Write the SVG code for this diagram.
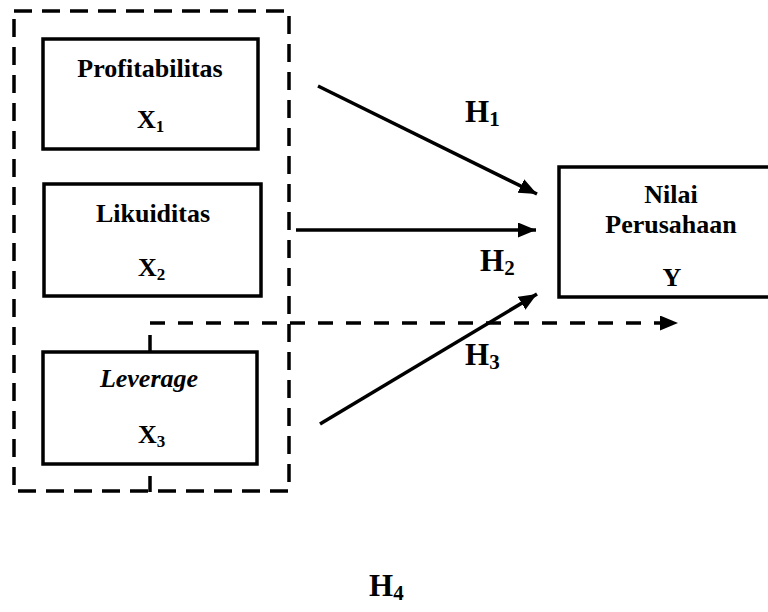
<svg xmlns="http://www.w3.org/2000/svg" width="768" height="612" viewBox="0 0 768 612">
<style>
.box{fill:#fff;stroke:#000;stroke-width:3.5}
.t{font-family:"Liberation Serif","Times New Roman",serif;font-weight:bold;font-size:26px;fill:#000}
.h{font-family:"Liberation Serif","Times New Roman",serif;font-weight:bold;font-size:31px;fill:#000}
.sub{font-size:17px}
.hs{font-size:21px}
.ln{stroke:#000;stroke-width:3.5;fill:none}
.dash{stroke:#000;stroke-width:3.5;fill:none;stroke-dasharray:15 13}
.odash{stroke:#000;stroke-width:3.5;fill:none;stroke-dasharray:18 10}
</style>
<defs>
<marker id="ah" markerUnits="userSpaceOnUse" markerWidth="20" markerHeight="16" refX="18" refY="7.5" orient="auto">
<path d="M0,0 L18,7.5 L0,15 Z" fill="#000"/>
</marker>
</defs>
<rect width="768" height="612" fill="#fff"/>
<g id="group-outline">
<rect class="odash" x="14" y="11" width="275" height="480"/>
</g>
<g id="node-x1">
<rect class="box" x="43" y="39" width="215" height="110"/>
<text class="t" x="150" y="77" text-anchor="middle">Profitabilitas</text>
<text class="t" x="137" y="128">X<tspan class="sub" dy="4">1</tspan></text>
</g>
<g id="node-x2">
<rect class="box" x="44" y="184" width="217" height="112"/>
<text class="t" x="153" y="222" text-anchor="middle">Likuiditas</text>
<text class="t" x="138" y="276">X<tspan class="sub" dy="4">2</tspan></text>
</g>
<g id="node-x3">
<rect class="box" x="43" y="352" width="214" height="112"/>
<text class="t" x="149" y="387" text-anchor="middle" font-style="italic">Leverage</text>
<text class="t" x="138" y="443">X<tspan class="sub" dy="4">3</tspan></text>
</g>
<g id="node-y">
<rect class="box" x="559" y="167" width="226" height="130"/>
<text class="t" x="671" y="203" text-anchor="middle">Nilai</text>
<text class="t" x="671" y="233" text-anchor="middle">Perusahaan</text>
<text class="t" x="672" y="286" text-anchor="middle">Y</text>
</g>
<g id="connectors">
<line class="ln" x1="318" y1="86" x2="537" y2="194" marker-end="url(#ah)"/>
<line class="ln" x1="296" y1="230" x2="536" y2="230" marker-end="url(#ah)"/>
<line class="ln" x1="320" y1="424" x2="537" y2="294" marker-end="url(#ah)"/>
<line class="dash" x1="150" y1="323" x2="678" y2="323" marker-end="url(#ah)"/>
<line class="ln" x1="150" y1="335" x2="150" y2="352"/>
<line class="ln" x1="150" y1="476" x2="150" y2="492"/>
</g>
<g id="labels">
<text class="h" x="465" y="122">H<tspan class="hs" dy="4">1</tspan></text>
<text class="h" x="480" y="271">H<tspan class="hs" dy="4">2</tspan></text>
<text class="h" x="465" y="365">H<tspan class="hs" dy="4">3</tspan></text>
<text class="h" x="369" y="596">H<tspan class="hs" dy="4">4</tspan></text>
</g>
</svg>
